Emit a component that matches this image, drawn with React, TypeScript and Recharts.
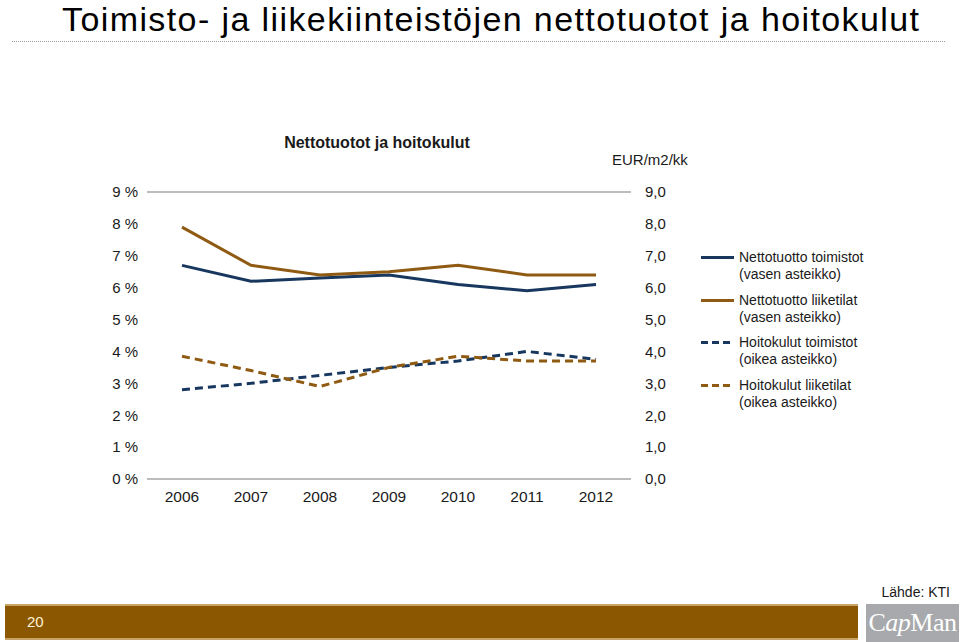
import React from 'react';
import {
  LineChart,
  Line,
  XAxis,
  YAxis,
  CartesianGrid,
} from 'recharts';

// vuodet ja sarjat (luettu kuvasta)
const years = ['2006', '2007', '2008', '2009', '2010', '2011', '2012'];
const nettoToimistot = [6.7, 6.2, 6.3, 6.4, 6.1, 5.9, 6.1];
const nettoLiiketilat = [7.9, 6.7, 6.4, 6.5, 6.7, 6.4, 6.4];
const hoitoToimistot = [2.8, 3.0, 3.25, 3.5, 3.7, 4.0, 3.75];
const hoitoLiiketilat = [3.85, 3.4, 2.9, 3.5, 3.85, 3.7, 3.7];
const leftTicks = [0, 1, 2, 3, 4, 5, 6, 7, 8, 9];
const rightTicks = [0, 1, 2, 3, 4, 5, 6, 7, 8, 9];

const NAVY = '#17375e';
const BROWN = '#8f5a12';

const data = years.map((y, i) => ({
  year: y,
  nt: nettoToimistot[i],
  nl: nettoLiiketilat[i],
  ht: hoitoToimistot[i],
  hl: hoitoLiiketilat[i],
}));

const series = [
  { key: 'nt', l1: 'Nettotuotto toimistot', l2: '(vasen asteikko)', color: NAVY, dashed: false, axis: 'left' },
  { key: 'nl', l1: 'Nettotuotto liiketilat', l2: '(vasen asteikko)', color: BROWN, dashed: false, axis: 'left' },
  { key: 'ht', l1: 'Hoitokulut toimistot', l2: '(oikea asteikko)', color: NAVY, dashed: true, axis: 'right' },
  { key: 'hl', l1: 'Hoitokulut liiketilat', l2: '(oikea asteikko)', color: BROWN, dashed: true, axis: 'right' },
];

const FONT = '"Liberation Sans", Arial, Helvetica, sans-serif';

// selite erillisenä, jotta se ei kavenna piirtoaluetta
const LegendBox = () => (
  <div style={{ fontFamily: FONT, fontSize: 14, color: '#1a1a1a', lineHeight: '17px' }}>
    {series.map(s => (
      <div key={s.key} style={{ display: 'flex', alignItems: 'flex-start', marginBottom: 8.5 }}>
        <svg width={37} height={17} style={{ flex: 'none' }}>
          <line
            x1={1}
            x2={34}
            y1={8.5}
            y2={8.5}
            stroke={s.color}
            strokeWidth={3}
            strokeDasharray={s.dashed ? '7 4' : undefined}
          />
        </svg>
        <div style={{ marginLeft: 2 }}>
          <div>{s.l1}</div>
          <div>{s.l2}</div>
        </div>
      </div>
    ))}
  </div>
);

export default function App() {
  return (
    <div style={{ position: 'absolute', left: 0, top: 0, width: 960, height: 642, background: '#fff', overflow: 'hidden' }}>
      <div style={{
        position: 'absolute', left: 62, top: 0,
        fontFamily: FONT, fontSize: 34, letterSpacing: 1.4, color: '#000', whiteSpace: 'nowrap',
      }}>
        Toimisto- ja liikekiinteistöjen nettotuotot ja hoitokulut
      </div>
      <div style={{ position: 'absolute', left: 12, width: 933, top: 41, borderTop: '1px dotted #999' }} />

      <div style={{
        position: 'absolute', left: 227, width: 300, top: 134, textAlign: 'center',
        fontFamily: FONT, fontSize: 16, fontWeight: 700, color: '#1a1a1a',
      }}>
        Nettotuotot ja hoitokulut
      </div>
      <div style={{
        position: 'absolute', left: 612, top: 151,
        fontFamily: FONT, fontSize: 15, color: '#1a1a1a',
      }}>
        EUR/m2/kk
      </div>

      <div style={{ position: 'absolute', left: 0, top: 0 }}>
        <LineChart
          width={960}
          height={642}
          data={data}
          margin={{ top: 192, left: 98, right: 269, bottom: 133 }}
        >
          <CartesianGrid vertical={false} stroke="#a6a6a6" strokeWidth={1.5} />
          <XAxis
            dataKey="year"
            axisLine={false}
            tickLine={false}
            tickMargin={6}
            height={30}
            padding={{ left: 35, right: 35 }}
            tick={{ fontSize: 15.5, fill: '#1a1a1a', fontFamily: FONT }}
          />
          <YAxis
            yAxisId="left"
            domain={[0, 9]}
            ticks={leftTicks}
            interval={0}
            width={49}
            axisLine={false}
            tickLine={false}
            tickMargin={3}
            tickFormatter={(v: number) => `${v} %`}
            tick={{ fontSize: 15, fill: '#1a1a1a', fontFamily: FONT }}
          />
          <YAxis
            yAxisId="right"
            orientation="right"
            domain={[0, 9]}
            ticks={rightTicks}
            interval={0}
            width={60}
            axisLine={false}
            tickLine={false}
            tickMargin={8}
            tickFormatter={(v: number) => v.toFixed(1).replace('.', ',')}
            tick={{ fontSize: 15, fill: '#1a1a1a', fontFamily: FONT }}
          />
          {series.map(s => (
            <Line
              key={s.key}
              yAxisId={s.axis}
              dataKey={s.key}
              name={s.l1}
              type="linear"
              stroke={s.color}
              strokeWidth={3}
              strokeDasharray={s.dashed ? '8 5' : undefined}
              dot={false}
              activeDot={false}
              isAnimationActive={false}
            />
          ))}
        </LineChart>
      </div>

      <div style={{ position: 'absolute', left: 700, top: 249, width: 230 }}>
        <LegendBox />
      </div>

      <div style={{
        position: 'absolute', right: 10, top: 584,
        fontFamily: FONT, fontSize: 14, color: '#1a1a1a',
      }}>
        Lähde: KTI
      </div>
      <div style={{
        position: 'absolute', left: 5, top: 604, width: 853, height: 36,
        background: '#8b5700', borderTop: '2px solid #c9a467', borderBottom: '2px solid #c9a467', boxSizing: 'border-box',
      }}>
        <div style={{
          position: 'absolute', left: 22, top: 7, fontFamily: FONT, fontSize: 15, color: '#fff3d6',
        }}>
          20
        </div>
      </div>
      <div style={{
        position: 'absolute', left: 866, top: 604, width: 93, height: 38,
        background: '#a7a9ac', color: '#fff', fontFamily: '"Liberation Serif", "DejaVu Serif", serif',
        fontSize: 26, lineHeight: '38px', textAlign: 'center', letterSpacing: -0.5,
      }}>
        C<i>ap</i>Man
      </div>
    </div>
  );
}
